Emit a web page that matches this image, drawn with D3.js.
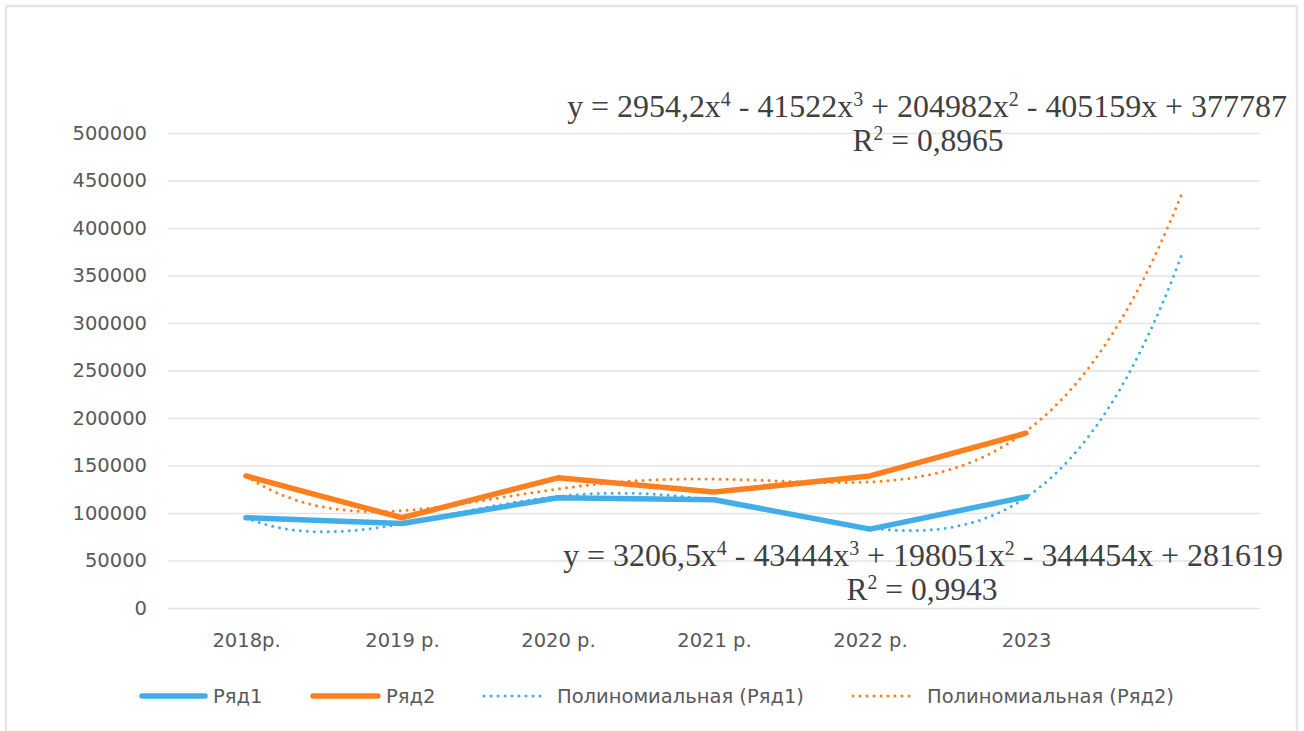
<!DOCTYPE html>
<html>
<head>
<meta charset="utf-8">
<script src="https://cdn.jsdelivr.net/npm/d3@7"></script>
<style>
  body { margin: 0; background: #fff; }
  svg { display: block; }
  .tick text { fill: #595959; font-family: "DejaVu Sans", sans-serif; font-size: 19.5px; }
</style>
</head>
<body>
<script>
var categories = ["2018р.", "2019 р.", "2020 р.", "2021 р.", "2022 р.", "2023"];
var row1 = [95000, 89000, 116000, 114000, 83000, 117000];
var row2 = [139000, 95000, 137000, 122000, 139000, 184000];
// trendline coefficients from the chart labels, constant term first
var trend1 = [281619, -344454, 198051, -43444, 3206.5];
var trend2 = [377787, -405159, 204982, -41522, 2954.2];
var yTicks = [0, 50000, 100000, 150000, 200000, 250000, 300000, 350000, 400000, 450000, 500000];
var legendNames = ["Ряд1", "Ряд2", "Полиномиальная (Ряд1)", "Полиномиальная (Ряд2)"];

var W = 1304, H = 731;
var blue = "#42ade8", orange = "#ff7f1e";
var margin = {top: 133, right: 44, bottom: 123, left: 168};

var svg = d3.select("body").append("svg")
    .attr("width", W)
    .attr("height", H);

svg.append("rect")
    .attr("x", 6).attr("y", 6)
    .attr("width", 1291).attr("height", 740)
    .attr("fill", "#fff")
    .attr("stroke", "#e6e6e6")
    .attr("stroke-width", 2.5);

var x = d3.scaleLinear()
    .domain([0.5, 7.5])
    .range([margin.left, W - margin.right]);

var y = d3.scaleLinear()
    .domain([0, 500000])
    .range([H - margin.bottom, margin.top]);

// gridlines + y labels
svg.append("g")
    .attr("transform", "translate(" + margin.left + ",0)")
    .call(d3.axisLeft(y).tickValues(yTicks).tickFormat(d3.format("d"))
        .tickSize(-(x.range()[1] - x.range()[0])).tickPadding(21))
    .call(function(g) {
        g.select(".domain").remove();
        g.selectAll(".tick line").attr("stroke", "#e3e3e3").attr("stroke-width", 1.5);
    });

// x labels
svg.append("g")
    .attr("transform", "translate(0," + (H - margin.bottom) + ")")
    .call(d3.axisBottom(x)
        .tickValues(d3.range(1, categories.length + 1))
        .tickFormat(function(d) { return categories[d - 1]; })
        .tickSize(0).tickPadding(25))
    .call(function(g) { g.select(".domain").remove(); });

function poly(c, t) {
    return c.reduce(function(s, a, i) { return s + a * Math.pow(t, i); }, 0);
}

var line = d3.line()
    .x(function(d) { return x(d[0]); })
    .y(function(d) { return y(d[1]); });

function trendPoints(c) {
    return d3.range(1, 7.001, 0.05).map(function(t) { return [t, poly(c, t)]; });
}

[[trend1, blue], [trend2, orange]].forEach(function(s) {
    svg.append("path")
        .attr("d", line(trendPoints(s[0])))
        .attr("fill", "none")
        .attr("stroke", s[1])
        .attr("stroke-width", 3)
        .attr("stroke-linecap", "round")
        .attr("stroke-dasharray", "0 7");
});

[[row1, blue], [row2, orange]].forEach(function(s) {
    svg.append("path")
        .attr("d", line(s[0].map(function(v, i) { return [i + 1, v]; })))
        .attr("fill", "none")
        .attr("stroke", s[1])
        .attr("stroke-width", 5.5)
        .attr("stroke-linecap", "round")
        .attr("stroke-linejoin", "round");
});

// equation labels
function eqText(cx, cy, parts, width) {
    var t = svg.append("text")
        .attr("font-family", "Liberation Serif, serif")
        .attr("font-size", 32)
        .attr("fill", "#404040")
        .attr("text-anchor", "middle");
    parts.forEach(function(p) {
        if (typeof p === "string") {
            t.append("tspan").text(p);
        } else {
            t.append("tspan").attr("baseline-shift", "super").attr("font-size", 20).text(p.sup);
        }
    });
    var w = t.node().getComputedTextLength();
    t.attr("transform", "translate(" + cx + "," + cy + ") scale(" + (width / w) + ",1)");
}

eqText(927, 117, ["y = 2954,2x", {sup: "4"}, " - 41522x", {sup: "3"}, " + 204982x", {sup: "2"}, " - 405159x + 377787"], 720);
eqText(928, 151, ["R", {sup: "2"}, " = 0,8965"], 151);
eqText(923, 566, ["y = 3206,5x", {sup: "4"}, " - 43444x", {sup: "3"}, " + 198051x", {sup: "2"}, " - 344454x + 281619"], 720);
eqText(922, 600, ["R", {sup: "2"}, " = 0,9943"], 151);

// legend
var legendItems = [
    {name: legendNames[0], color: blue, dotted: false, x0: 142, x1: 205, tx: 213},
    {name: legendNames[1], color: orange, dotted: false, x0: 313, x1: 378, tx: 386},
    {name: legendNames[2], color: blue, dotted: true, x0: 484, x1: 546, tx: 557},
    {name: legendNames[3], color: orange, dotted: true, x0: 853, x1: 916, tx: 927}
];
var lg = svg.append("g").attr("transform", "translate(0,696)");
legendItems.forEach(function(d) {
    lg.append("line")
        .attr("x1", d.x0).attr("x2", d.x1)
        .attr("stroke", d.color)
        .attr("stroke-width", d.dotted ? 3 : 5.5)
        .attr("stroke-linecap", "round")
        .attr("stroke-dasharray", d.dotted ? "0 7" : null);
    lg.append("text")
        .attr("x", d.tx)
        .attr("dy", "0.35em")
        .attr("font-family", "DejaVu Sans, sans-serif")
        .attr("font-size", 19.5)
        .attr("fill", "#595959")
        .text(d.name);
});
</script>
</body>
</html>
